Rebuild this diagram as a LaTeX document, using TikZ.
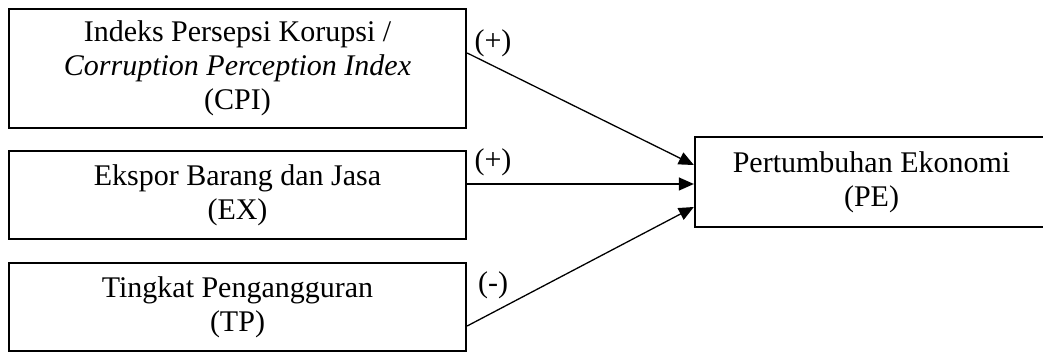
\documentclass[tikz,border=0pt]{standalone}
\usepackage{fontspec}
\setmainfont{Liberation Serif}
\usetikzlibrary{arrows.meta,calc}
\begin{document}
\begin{tikzpicture}[x=1pt,y=-1pt,
  varbox/.style={draw,line width=2.3pt,inner sep=0pt,align=center,
    font=\fontsize{30}{34}\selectfont},
  conn/.style={line width=1.3pt,-{Triangle[length=15pt,width=13pt]}},
  sign/.style={inner sep=0pt,font=\fontsize{30}{34}\selectfont}]
\useasboundingbox (0,0) rectangle (1043,352);
\clip (0,0) rectangle (1043,352);
\node[varbox,minimum width=457pt,minimum height=119pt] (CPI) at (237.5,68.5)
  {Indeks Persepsi Korupsi /\\\textit{Corruption Perception Index}\\(CPI)};
\node[varbox,minimum width=457pt,minimum height=88pt] (EX) at (237.5,195)
  {Ekspor Barang dan Jasa\\(EX)};
\node[varbox,minimum width=457pt,minimum height=88pt] (TP) at (237.5,307)
  {Tingkat Pengangguran\\(TP)};
\node[varbox,minimum width=353pt,minimum height=90pt] (PE) at (871.5,182)
  {Pertumbuhan Ekonomi\\(PE)};
\draw[conn] ($(CPI.east)+(0,-15.5)$) -- ($(PE.west)+(0,-17)$);
\draw[conn] ($(EX.east)+(0,-11)$) -- ($(PE.west)+(0,2)$);
\draw[conn] ($(TP.east)+(0,19)$) -- ($(PE.west)+(0,25)$);
\node[sign] (s1) at (493,43) {(+)};
\node[sign] (s2) at (493,162) {(+)};
\node[sign] (s3) at (493,285) {(-)};
\end{tikzpicture}
\end{document}
